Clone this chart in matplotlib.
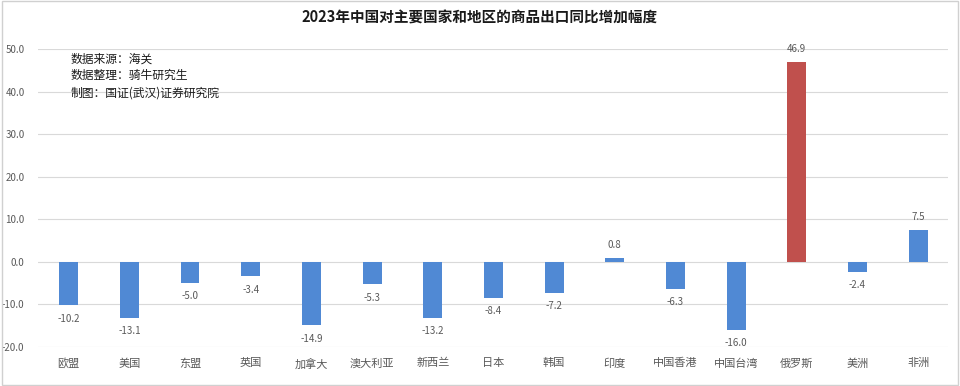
import numpy as np
import matplotlib.pyplot as plt
from matplotlib.patches import Rectangle

plt.rcParams['font.family'] = ['Noto Sans CJK SC', 'DejaVu Sans']

regioes = ["欧盟", "美国", "东盟", "英国", "加拿大", "澳大利亚", "新西兰", "日本",
           "韩国", "印度", "中国香港", "中国台湾", "俄罗斯", "美洲", "非洲"]
valores = [-10.2, -13.1, -5.0, -3.4, -14.9, -5.3, -13.2, -8.4,
           -7.2, 0.8, -6.3, -16.0, 46.9, -2.4, 7.5]
destaque = "俄罗斯"
y_ticks = [-20, -10, 0, 10, 20, 30, 40, 50]

titulo = "2023年中国对主要国家和地区的商品出口同比增加幅度"
nota = ["数据来源：海关", "数据整理：骑牛研究生", "制图：国证(武汉)证券研究院"]

AZUL = "#5089D4"
VERMELHO = "#C0504D"

fig = plt.figure(figsize=(9.6, 3.86), dpi=100)
ax = fig.add_axes([0.040, 0.101, 0.948, 0.772])

x = np.arange(len(regioes))
cores = [VERMELHO if r == destaque else AZUL for r in regioes]
barras = ax.bar(x, valores, width=0.31, color=cores, zorder=3)

# rótulos de dados
for xi, v in zip(x, valores):
    if v >= 0:
        ax.annotate(f"{v:.1f}", (xi, v), xytext=(0, 6), textcoords="offset points",
                    ha="center", va="bottom", fontsize=7, color="#595959")
    else:
        ax.annotate(f"{v:.1f}", (xi, v), xytext=(0, -6), textcoords="offset points",
                    ha="center", va="top", fontsize=7, color="#595959")

ax.set_xlim(-0.5, len(regioes) - 0.5)
ax.set_ylim(-20, 50)
ax.set_yticks(y_ticks)
ax.set_yticklabels([f"{t:.1f}" for t in y_ticks], fontsize=7, color="#595959")
ax.set_xticks(x)
ax.set_xticklabels(regioes, fontsize=8, color="#595959")
ax.tick_params(axis="both", length=0)
ax.tick_params(axis="x", pad=8)
ax.tick_params(axis="y", pad=10)
ax.grid(axis="y", color="#D9D9D9", linewidth=0.8, zorder=0)
for s in ax.spines.values():
    s.set_visible(False)

fig.text(0.5, 0.955, titulo, ha="center", va="center", fontsize=10.5,
         fontweight="bold", color="#1a1a1a")

for i, linha in enumerate(nota):
    fig.text(0.073, 0.848 - i * 0.044, linha, ha="left", va="center",
             fontsize=8.5, color="#1a1a1a")

fig.patches.append(Rectangle((0.002, 0.003), 0.996, 0.994, transform=fig.transFigure,
                             fill=False, edgecolor="#D0D0D0", linewidth=1.0))

fig.savefig("out.png", dpi=100)
